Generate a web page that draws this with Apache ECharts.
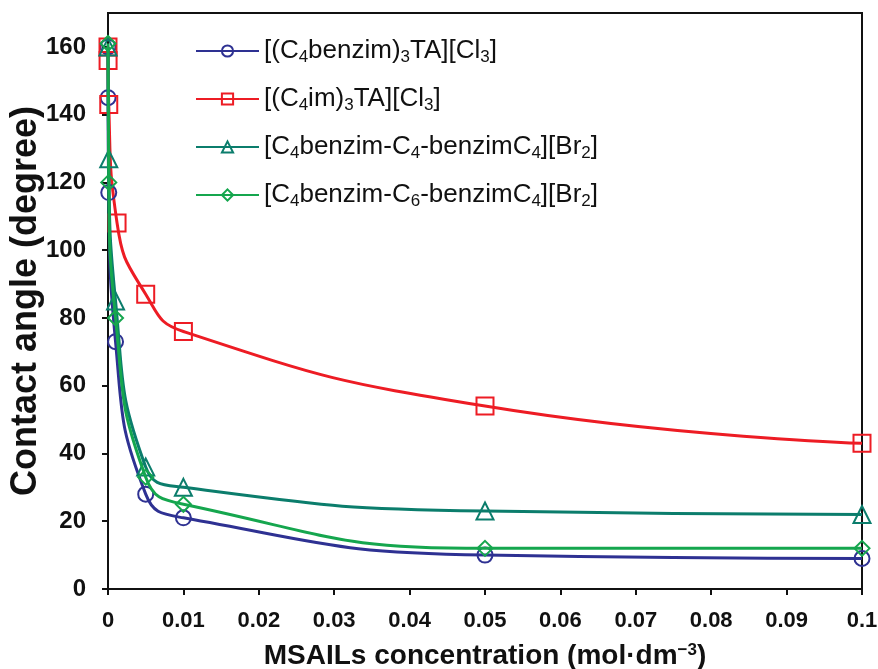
<!DOCTYPE html>
<html>
<head>
<meta charset="utf-8">
<script src="https://cdn.jsdelivr.net/npm/echarts@6/dist/echarts.min.js"></script>
<style>
  html, body { margin: 0; padding: 0; background: #fff; }
  #chart { width: 878px; height: 669px; }
</style>
</head>
<body>
<div id="chart"></div>
<script>
// concentrations (mol dm-3) and contact angles (degree)
var xBenzimTA = [0, 0.00001, 0.0001, 0.001, 0.005, 0.01, 0.05, 0.1];
var yBenzimTA = [160, 145, 117, 73, 28, 21, 10, 9];

var xImTA = [0, 0.00001, 0.0001, 0.0012, 0.005, 0.01, 0.05, 0.1];
var yImTA = [160, 156, 143, 108, 87, 76, 54, 43];

var xC4 = [0, 0.0001, 0.001, 0.005, 0.01, 0.05, 0.1];
var yC4 = [160, 127, 85, 36, 30, 23, 22];

var xC6 = [0, 0.0001, 0.001, 0.005, 0.01, 0.05, 0.1];
var yC6 = [161, 120, 80, 33, 25, 12, 12];

var seriesNames = [
    '[(C4benzim)3TA][Cl3]',
    '[(C4im)3TA][Cl3]',
    '[C4benzim-C4-benzimC4][Br2]',
    '[C4benzim-C6-benzimC4][Br2]'
];
var legendRich = [
    '[(C{s|4}benzim){s|3}TA][Cl{s|3}]',
    '[(C{s|4}im){s|3}TA][Cl{s|3}]',
    '[C{s|4}benzim-C{s|4}-benzimC{s|4}][Br{s|2}]',
    '[C{s|4}benzim-C{s|6}-benzimC{s|4}][Br{s|2}]'
];
var colors = ['#2E3192', '#ED1C24', '#0B7D6C', '#15A64E'];
var symbols = ['circle', 'rect', 'triangle', 'diamond'];
var symbolSizes = [15, 17, 17, 15];

var font = "'Liberation Sans', Arial, sans-serif";

function pairs(xs, ys) {
    return xs.map(function(x, i) { return [x, ys[i]]; });
}
var allData = [
    pairs(xBenzimTA, yBenzimTA),
    pairs(xImTA, yImTA),
    pairs(xC4, yC4),
    pairs(xC6, yC6)
];

var chart = echarts.init(document.getElementById('chart'));
chart.setOption({
    animation: false,
    backgroundColor: '#fff',
    grid: {
        left: 108, right: 16, top: 13, bottom: 80,
        outerBoundsMode: 'none',
        containLabel: false,
        show: true, borderColor: '#111', borderWidth: 2
    },
    legend: {
        orient: 'vertical',
        left: 195, top: 36,
        padding: 0,
        itemGap: 18,
        itemWidth: 63, itemHeight: 14,
        data: seriesNames,
        formatter: function(name) {
            return legendRich[seriesNames.indexOf(name)];
        },
        textStyle: {
            fontFamily: font,
            fontSize: 26, color: '#111', lineHeight: 30,
            rich: {
                s: { fontFamily: font, fontSize: 17, color: '#111', lineHeight: 30,
                     verticalAlign: 'bottom', padding: [9, 0, 0, 0] }
            }
        }
    },
    xAxis: {
        type: 'value',
        min: 0, max: 0.1, interval: 0.01,
        splitLine: { show: false },
        axisLine: { onZero: false, lineStyle: { color: '#111', width: 2 } },
        axisTick: { length: 6, lineStyle: { color: '#111', width: 2 } },
        axisLabel: {
            margin: 21,
            fontFamily: font, fontWeight: 'bold', fontSize: 22, color: '#111'
        },
        name: 'MSAILs concentration (mol·dm{sup|−3})',
        nameLocation: 'middle',
        nameGap: 53,
        nameMoveOverlap: false,
        nameTextStyle: {
            fontFamily: font, fontWeight: 'bold', fontSize: 28, color: '#111',
            rich: {
                sup: { fontFamily: font, fontWeight: 'bold', fontSize: 17, color: '#111',
                       verticalAlign: 'top', padding: [0, 0, 12, 0] }
            }
        }
    },
    yAxis: {
        type: 'value',
        min: 0, max: 170, interval: 20,
        splitLine: { show: false },
        axisLine: { lineStyle: { color: '#111', width: 2 } },
        axisTick: { length: 6, lineStyle: { color: '#111', width: 2 } },
        axisLabel: {
            margin: 22, showMaxLabel: false,
            fontFamily: font, fontWeight: 'bold', fontSize: 24, color: '#111'
        },
        name: 'Contact angle (degree)',
        nameLocation: 'middle',
        nameGap: 64,
        nameMoveOverlap: false,
        nameTextStyle: {
            fontFamily: font, fontWeight: 'bold', fontSize: 36, color: '#111'
        }
    },
    series: seriesNames.map(function(n, i) {
        return {
            name: n,
            type: 'line',
            smooth: 0.5,
            data: allData[i],
            symbol: symbols[i],
            symbolSize: symbolSizes[i],
            color: colors[i],
            lineStyle: { color: colors[i], width: 3 },
            itemStyle: { color: 'transparent', borderColor: colors[i], borderWidth: 2 },
            z: 2 + (i === 1 ? 0 : i)
        };
    })
});
</script>
</body>
</html>
